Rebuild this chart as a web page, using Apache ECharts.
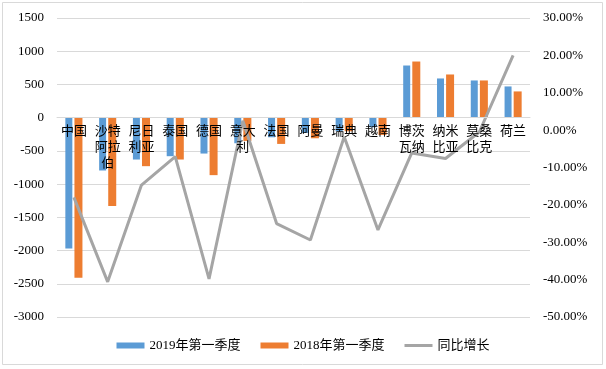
<!DOCTYPE html>
<html><head><meta charset="utf-8">
<script src="https://cdn.jsdelivr.net/npm/echarts@6/dist/echarts.min.js"></script>
<style>html,body{margin:0;padding:0;background:#fff}#c{width:606px;height:369px}</style>
</head><body><div id="c"></div>
<script>
const categories = ['中国','沙特\n阿拉\n伯','尼日\n利亚','泰国','德国','意大\n利','法国','阿曼','瑞典','越南','博茨\n瓦纳','纳米\n比亚','莫桑\n比克','荷兰'];
const q1_2019 = [-1970,-795,-630,-580,-540,-385,-295,-230,-205,-145,785,590,560,470];
const q1_2018 = [-2410,-1330,-730,-630,-865,-350,-395,-310,-205,-260,845,650,560,395];
const yoy = [-18.0,-40.6,-14.7,-7.1,-39.8,2.5,-25.0,-29.4,-1.8,-26.7,-6.1,-7.6,-0.5,20.0];
const leftTicks = [-3000,1500,500];
const rightTicks = [-50,30,10];

const W = 606, H = 369;
const gridTop = 18, gridBottom = 52;
const gridH = H - gridTop - gridBottom;
// distance from grid bottom up to the zero line of the left axis
const zeroOffset = gridH * (0 - leftTicks[0]) / (leftTicks[1] - leftTicks[0]);

const numFont = '"Liberation Serif", "Times New Roman", serif';
const cjkFont = '"Noto Sans CJK SC", sans-serif';
const chart = echarts.init(document.getElementById('c'), null, {renderer:'canvas'});
chart.setOption({
  animation:false,
  backgroundColor:'#fff',
  graphic:[{type:'rect',shape:{x:2.5,y:2.5,width:600,height:362},style:{fill:'none',stroke:'#d9d9d9',lineWidth:1},silent:true}],
  grid:{left:57,right:76,top:gridTop,bottom:gridBottom},
  legend:{
    bottom:12,left:'center',itemGap:20,itemWidth:28,itemHeight:6,
    textStyle:{fontFamily:numFont+', '+cjkFont,fontSize:13,color:'#000'},
    data:[{name:'2019年第一季度',icon:'rect'},{name:'2018年第一季度',icon:'rect'},
          {name:'同比增长',icon:'path://M0,0L28,0L28,3L0,3Z',itemStyle:{color:'#a5a5a5'}}]
  },
  xAxis:{
    type:'category',data:categories,position:'bottom',offset:-zeroOffset,z:10,
    axisLine:{onZero:false,lineStyle:{color:'#d9d9d9'}},
    axisTick:{show:false},
    axisLabel:{interval:0,fontFamily:cjkFont,fontSize:13,color:'#000',lineHeight:16,margin:4,verticalAlign:'top'}
  },
  yAxis:[{
    type:'value',min:leftTicks[0],max:leftTicks[1],interval:leftTicks[2],
    axisLine:{show:false},axisTick:{show:false},
    splitLine:{lineStyle:{color:'#d9d9d9'}},
    axisLabel:{fontFamily:numFont,fontSize:13,color:'#000',margin:13,formatter:v=>String(v)}
  },{
    type:'value',min:rightTicks[0],max:rightTicks[1],interval:rightTicks[2],
    axisLine:{show:false},axisTick:{show:false},splitLine:{show:false},
    axisLabel:{fontFamily:numFont,fontSize:13,color:'#000',margin:13,formatter:v=>v.toFixed(2)+'%'}
  }],
  series:[
    {name:'2019年第一季度',type:'bar',data:q1_2019,barWidth:7,barGap:'30%',itemStyle:{color:'#5b9bd5'}},
    {name:'2018年第一季度',type:'bar',data:q1_2018,barWidth:8,itemStyle:{color:'#ed7d31'}},
    {name:'同比增长',type:'line',yAxisIndex:1,data:yoy,symbol:'none',lineStyle:{color:'#a5a5a5',width:3},itemStyle:{color:'#a5a5a5'},z:3}
  ]
});
</script></body></html>
